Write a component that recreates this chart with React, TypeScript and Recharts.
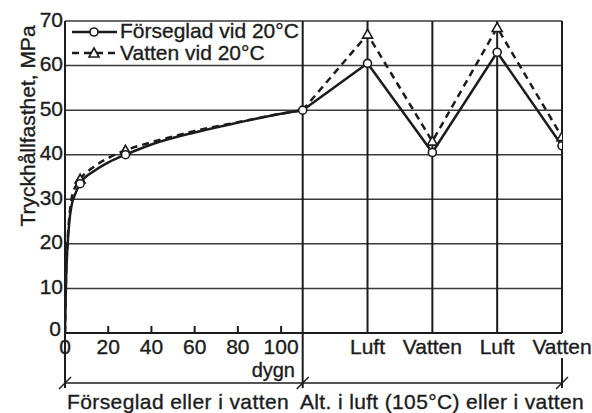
import React from "react";
import {
  LineChart,
  Line,
  XAxis,
  YAxis,
  CartesianGrid,
  ReferenceLine,
  Customized,
} from "recharts";

const curveDays = [0, 0.5, 1, 2, 3, 5, 7, 14, 21, 28, 40, 60, 80, 100, 110];
const sealedCurve = [0, 12, 18, 25, 28.5, 31.5, 33.5, 36.5, 38.5, 40, 42.3, 45, 47.2, 49.2, 50];
const waterCurve = [0, 13, 19, 26, 30, 33, 34.5, 37.5, 39.5, 41, 42.8, 45.3, 47.3, 49.2, 50];
const sealedMarkerDays = [7, 28, 110];
const waterMarkerDays = [7, 28];

const cycleX = [110, 140, 170, 200, 230];
const cycleLabels = ["", "Luft", "Vatten", "Luft", "Vatten"];
const sealedCycle = [50, 60.5, 40.5, 63, 42];
const waterCycle = [50, 67, 43, 68.5, 44];

const dayTicks = [0, 20, 40, 60, 80, 100];
const yTicks = [0, 10, 20, 30, 40, 50, 60, 70];

const W = 592;
const H = 413;
const LEFT = 65;
const TOP = 21;
const RIGHT = 562;
const BOTTOM = 333;
const X_MAX = 230;
const xPix = (d: number) => LEFT + (d / X_MAX) * (RIGHT - LEFT);

const INK = "#1c1c1c";
const FONT = "'Liberation Sans', Arial, sans-serif";
const FS = 21;
const textStyle = { stroke: INK, strokeWidth: 0.35 };

const sealedLeft = curveDays.map((d, i) => ({ d, v: sealedCurve[i], m: sealedMarkerDays.includes(d) }));
const waterLeft = curveDays.map((d, i) => ({ d, v: waterCurve[i], m: waterMarkerDays.includes(d) }));
const sealedRight = cycleX.map((d, i) => ({ d, v: sealedCycle[i], m: i > 0 }));
const waterRight = cycleX.map((d, i) => ({ d, v: waterCycle[i], m: i > 0 }));

const CircleDot = (props: any) => {
  const { cx, cy, payload } = props;
  if (!payload || !payload.m) return <g key={`c-${cx}`} />;
  return <circle key={`c-${cx}`} cx={cx} cy={cy} r={4} fill="#fff" stroke={INK} strokeWidth={1.6} />;
};

const TriDot = (props: any) => {
  const { cx, cy, payload } = props;
  if (!payload || !payload.m) return <g key={`t-${cx}`} />;
  const s = 5;
  return (
    <polygon
      key={`t-${cx}`}
      points={`${cx},${cy - s} ${cx - s},${cy + s * 0.75} ${cx + s},${cy + s * 0.75}`}
      fill="#fff"
      stroke={INK}
      strokeWidth={1.6}
    />
  );
};

const XTick = (props: any) => {
  const { x, y, payload } = props;
  const v = payload.value as number;
  const idx = cycleX.indexOf(v);
  const label = v <= 100 ? String(v) : cycleLabels[idx];
  return (
    <g>
      {v > 0 && v <= 100 && <line x1={x} x2={x} y1={y} y2={y - 7} stroke={INK} strokeWidth={2} />}
      <text x={x} y={y + 21} textAnchor="middle" fill={INK} fontSize={FS} fontFamily={FONT} style={textStyle}>
        {label}
      </text>
    </g>
  );
};

const YTick = (props: any) => {
  const { x, y, payload } = props;
  const zero = payload.value === 0;
  return (
    <text
      x={x - (zero ? 4 : 2)}
      y={y}
      dy={zero ? 2.5 : 5.5}
      textAnchor="end"
      fill={INK}
      fontSize={FS}
      fontFamily={FONT}
      style={textStyle}
    >
      {payload.value}
    </text>
  );
};

const Decor = () => {
  const div = xPix(110);
  const bracketY = 383;
  const slash = (x: number) => (
    <line key={`s-${x}`} x1={x - 6} y1={bracketY + 6} x2={x + 6} y2={bracketY - 6} stroke={INK} strokeWidth={1.5} />
  );
  return (
    <g fontFamily={FONT} fill={INK}>
      {/* legend */}
      <line x1={72} x2={117} y1={32} y2={32} stroke={INK} strokeWidth={2.5} />
      <circle cx={94} cy={32} r={4} fill="#fff" stroke={INK} strokeWidth={1.6} />
      <text x={120} y={38} fontSize={FS} style={textStyle}>Förseglad vid 20°C</text>
      <line x1={72} x2={117} y1={53} y2={53} stroke={INK} strokeWidth={2.5} strokeDasharray="7 5" />
      <polygon points="94,48 89,57 99,57" fill="#fff" stroke={INK} strokeWidth={1.6} />
      <text x={120} y={60} fontSize={FS} style={textStyle}>Vatten vid 20°C</text>

      {/* y label */}
      <text
        x={27}
        y={126}
        fontSize={FS}
        textAnchor="middle"
        dominantBaseline="central"
        transform="rotate(-90, 27, 126)"
        style={textStyle}
      >
        Tryckhållfasthet, MPa
      </text>

      {/* lower brackets */}
      <line x1={LEFT} x2={LEFT} y1={BOTTOM} y2={bracketY + 5} stroke={INK} strokeWidth={2} />
      <line x1={div} x2={div} y1={BOTTOM} y2={bracketY + 5} stroke={INK} strokeWidth={2} />
      <line x1={RIGHT} x2={RIGHT} y1={358} y2={bracketY + 5} stroke={INK} strokeWidth={2} />
      <line x1={LEFT} x2={RIGHT} y1={bracketY} y2={bracketY} stroke={INK} strokeWidth={1.5} />
      {[LEFT, div, RIGHT].map(slash)}

      <text x={295} y={377} fontSize={20} textAnchor="end" style={textStyle}>dygn</text>
      <text x={67} y={409} fontSize={FS} letterSpacing={0.4} style={textStyle}>Förseglad eller i vatten</text>
      <text x={300} y={409} fontSize={FS} letterSpacing={0.35} style={textStyle}>Alt. i luft (105°C) eller i vatten</text>
    </g>
  );
};

export default function App() {
  return (
    <div style={{ position: "absolute", left: 0, top: 0, width: W, height: H, background: "#fff" }}>
      <LineChart
        width={W}
        height={H}
        margin={{ top: TOP, right: W - RIGHT, bottom: 0, left: 0 }}
        style={{ fontFamily: FONT }}
      >
        <CartesianGrid vertical={false} stroke="#3a3a3a" strokeWidth={1.5} />
        {cycleX.map((x) => (
          <ReferenceLine key={x} x={x} stroke={INK} strokeWidth={2} />
        ))}
        <XAxis
          type="number"
          dataKey="d"
          domain={[0, X_MAX]}
          ticks={[...dayTicks, ...cycleX.slice(1)]}
          tick={<XTick />}
          tickSize={0}
          tickMargin={0}
          tickLine={false}
          height={H - BOTTOM}
          interval={0}
          axisLine={{ stroke: INK, strokeWidth: 2 }}
          allowDataOverflow
        />
        <YAxis
          type="number"
          domain={[0, 70]}
          ticks={yTicks}
          width={LEFT}
          tickSize={0}
          tickMargin={0}
          tickLine={false}
          interval={0}
          tick={<YTick />}
          axisLine={{ stroke: INK, strokeWidth: 2 }}
        />
        <Line
          data={waterLeft}
          dataKey="v"
          type="monotone"
          stroke={INK}
          strokeWidth={2.5}
          strokeDasharray="7 5"
          dot={<TriDot />}
          activeDot={false}
          isAnimationActive={false}
        />
        <Line
          data={sealedLeft}
          dataKey="v"
          type="monotone"
          stroke={INK}
          strokeWidth={2.5}
          dot={<CircleDot />}
          activeDot={false}
          isAnimationActive={false}
        />
        <Line
          data={waterRight}
          dataKey="v"
          type="linear"
          stroke={INK}
          strokeWidth={2.5}
          strokeDasharray="7 5"
          dot={<TriDot />}
          activeDot={false}
          isAnimationActive={false}
        />
        <Line
          data={sealedRight}
          dataKey="v"
          type="linear"
          stroke={INK}
          strokeWidth={2.5}
          dot={<CircleDot />}
          activeDot={false}
          isAnimationActive={false}
        />
        <Customized component={Decor} />
      </LineChart>
    </div>
  );
}
